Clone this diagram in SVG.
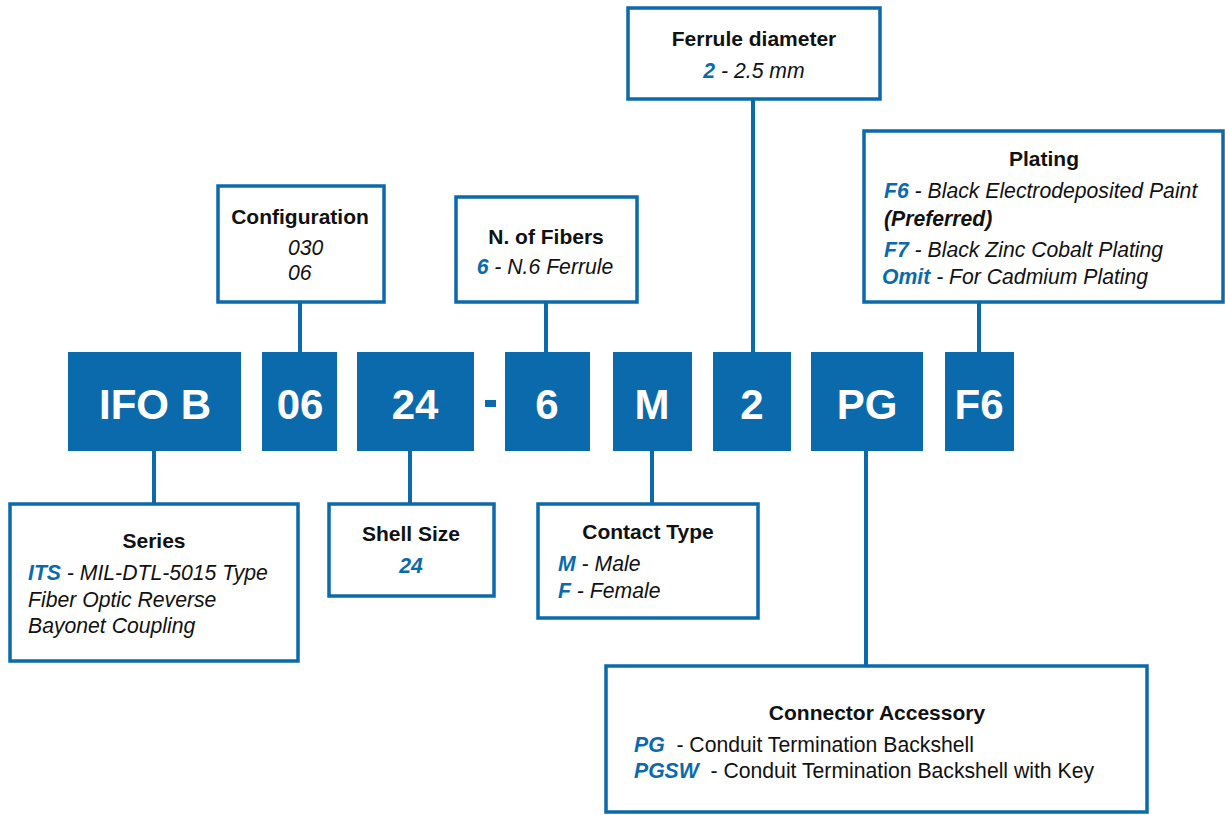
<svg xmlns="http://www.w3.org/2000/svg" width="1225" height="815" viewBox="0 0 1225 815">
<style>
.box{fill:#fff;stroke:#0b6aab;stroke-width:3.5}
.code{fill:#0b6aab}
.ct{font-family:"Liberation Sans",Arial,sans-serif;font-weight:bold;font-size:42px;fill:#fff;text-anchor:middle}
.t{font-family:"Liberation Sans",Arial,sans-serif;font-weight:bold;font-size:21px;fill:#111;text-anchor:middle}
.b{font-family:"Liberation Sans",Arial,sans-serif;font-style:italic;font-size:21.2px;fill:#111}
.r{font-family:"Liberation Sans",Arial,sans-serif;font-size:21.2px;fill:#111}
.k{font-weight:bold;font-style:italic;fill:#0b6aab}
.c{text-anchor:middle}
.ln{stroke:#0b6aab;stroke-width:4;fill:none}
</style>
<g id="connectors">
<line class="ln" x1="154" y1="451" x2="154" y2="503"/>
<line class="ln" x1="410" y1="451" x2="410" y2="503"/>
<line class="ln" x1="652" y1="451" x2="652" y2="503"/>
<line class="ln" x1="866" y1="451" x2="866" y2="665"/>
<line class="ln" x1="300" y1="302" x2="300" y2="352"/>
<line class="ln" x1="546" y1="302" x2="546" y2="352"/>
<line class="ln" x1="753" y1="99" x2="753" y2="352"/>
<line class="ln" x1="979" y1="302" x2="979" y2="352"/>
</g>
<g id="code-ifob"><rect class="code" x="68" y="352" width="173" height="99"/><text class="ct" x="155" y="419">IFO B</text></g>
<g id="code-06"><rect class="code" x="262" y="352" width="75" height="99"/><text class="ct" x="300" y="419">06</text></g>
<g id="code-24"><rect class="code" x="357" y="352" width="117" height="99"/><text class="ct" x="415" y="419">24</text></g>
<g id="dash"><rect class="code" x="485" y="400" width="11" height="7"/></g>
<g id="code-6"><rect class="code" x="505" y="352" width="85" height="99"/><text class="ct" x="547" y="419">6</text></g>
<g id="code-m"><rect class="code" x="613" y="352" width="79" height="99"/><text class="ct" x="652" y="419">M</text></g>
<g id="code-2"><rect class="code" x="713" y="352" width="78" height="99"/><text class="ct" x="752" y="419">2</text></g>
<g id="code-pg"><rect class="code" x="811" y="352" width="112" height="99"/><text class="ct" x="867" y="419">PG</text></g>
<g id="code-f6"><rect class="code" x="945" y="352" width="69" height="99"/><text class="ct" x="979" y="419">F6</text></g>

<g id="series"><rect class="box" x="10" y="504" width="288" height="157"/>
<text class="t" x="154" y="548">Series</text>
<text class="b" x="28" y="580"><tspan class="k">ITS</tspan> - MIL-DTL-5015 Type</text>
<text class="b" x="28" y="607">Fiber Optic Reverse</text>
<text class="b" x="28" y="633">Bayonet Coupling</text></g>

<g id="shell-size"><rect class="box" x="329" y="504" width="165" height="92"/>
<text class="t" x="411" y="541">Shell Size</text>
<text class="b k c" x="411" y="573">24</text></g>

<g id="contact-type"><rect class="box" x="538" y="504" width="220" height="114"/>
<text class="t" x="648" y="539">Contact Type</text>
<text class="b" x="558" y="571"><tspan class="k">M</tspan> - Male</text>
<text class="b" x="558" y="598"><tspan class="k">F</tspan> - Female</text></g>

<g id="connector-accessory"><rect class="box" x="606" y="666" width="541" height="146"/>
<text class="t" x="877" y="720">Connector Accessory</text>
<text class="r" x="634" y="752" xml:space="preserve"><tspan class="k">PG</tspan>  - Conduit Termination Backshell</text>
<text class="r" x="634" y="778" xml:space="preserve"><tspan class="k">PGSW</tspan>  - Conduit Termination Backshell with Key</text></g>

<g id="configuration"><rect class="box" x="218" y="186" width="166" height="116"/>
<text class="t" x="300" y="224">Configuration</text>
<text class="b" x="288" y="255">030</text>
<text class="b" x="288" y="280">06</text></g>

<g id="fibers"><rect class="box" x="456" y="197" width="181" height="105"/>
<text class="t" x="546" y="244">N. of Fibers</text>
<text class="b c" x="545" y="274"><tspan class="k">6</tspan> - N.6 Ferrule</text></g>

<g id="ferrule"><rect class="box" x="628" y="8" width="252" height="91"/>
<text class="t" x="754" y="46">Ferrule diameter</text>
<text class="b c" x="754" y="78"><tspan class="k">2</tspan> - 2.5 mm</text></g>

<g id="plating"><rect class="box" x="864" y="131" width="359" height="171"/>
<text class="t" x="1044" y="166">Plating</text>
<text class="b" x="884" y="198"><tspan class="k">F6</tspan> - Black Electrodeposited Paint</text>
<text class="b" x="884" y="226" font-weight="bold">(Preferred)</text>
<text class="b" x="884" y="257"><tspan class="k">F7</tspan> - Black Zinc Cobalt Plating</text>
<text class="b" x="882" y="284"><tspan class="k">Omit</tspan> - For Cadmium Plating</text></g>
</svg>
